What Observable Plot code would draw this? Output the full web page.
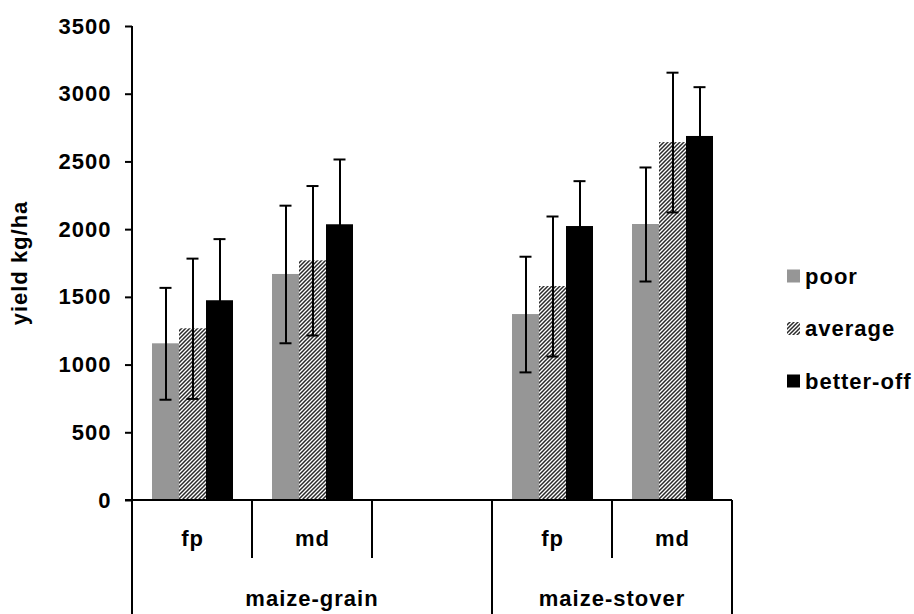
<!DOCTYPE html>
<html>
<head>
<meta charset="utf-8">
<script src="https://cdn.jsdelivr.net/npm/d3@7"></script>
<script src="https://cdn.jsdelivr.net/npm/@observablehq/plot@0.6"></script>
<style>
  html, body { margin: 0; padding: 0; background: #fff; }
  #chart { width: 914px; height: 614px; }
</style>
</head>
<body>
<div id="chart"></div>
<script>
// ---- data ----
const slots = ["grain-fp", "grain-md", "grain-blank", "stover-fp", "stover-md"];
const slotLabels = ["fp", "md", "", "fp", "md"];
const groups = ["maize-grain", "maize-stover"];
const groupSlots = [["grain-fp", "grain-md", "grain-blank"], ["stover-fp", "stover-md"]];
const classes = ["poor", "average", "better-off"];
const dataSlots = ["grain-fp", "grain-md", "stover-fp", "stover-md"];
const poor = [1157, 1669, 1373, 2038];
const poorErr = [413, 508, 427, 421];
const average = [1268, 1770, 1580, 2643];
const averageErr = [518, 552, 517, 516];
const betterOff = [1475, 2036, 2023, 2688];
const betterOffErr = [455, 482, 335, 364];
const yTicks = [0, 500, 1000, 1500, 2000, 2500, 3000, 3500];
const yLabel = "yield kg/ha";

const series = [[poor, poorErr], [average, averageErr], [betterOff, betterOffErr]];
const rows = [];
dataSlots.forEach((s, i) => {
  classes.forEach((c, k) => {
    rows.push({slot: s, cls: c, value: series[k][0][i], err: series[k][1][i]});
  });
});
const slotRows = slots.map((s, i) => ({slot: s, label: slotLabels[i]}));

const FONT = "'Liberation Sans', Arial, sans-serif";
const FS = 22;

const plot = Plot.plot({
  width: 914,
  height: 614,
  marginLeft: 130,
  marginRight: 181,
  marginTop: 26,
  marginBottom: 114,
  style: {fontFamily: FONT, fontWeight: "bold", fontSize: FS + "px", color: "#000", background: "#fff", letterSpacing: "1px"},
  fx: {domain: slots, padding: 0, axis: null},
  x: {domain: classes, paddingInner: 0, paddingOuter: 0.71, axis: null},
  y: {domain: [0, 3500], axis: null},
  color: {domain: classes, range: ["#969696", "url(#hatch)", "#000"]},
  marks: [
    Plot.barY(rows, {fx: "slot", x: "cls", y: "value", fill: "cls", inset: 0}),
    Plot.ruleX(rows, {fx: "slot", x: "cls", y1: d => d.value - d.err, y2: d => d.value + d.err, stroke: "#000", strokeWidth: 2}),
    Plot.tickY(rows, {fx: "slot", x: "cls", y: d => d.value + d.err, stroke: "#000", strokeWidth: 2, insetLeft: 7.5, insetRight: 7.5}),
    Plot.tickY(rows, {fx: "slot", x: "cls", y: d => d.value - d.err, stroke: "#000", strokeWidth: 2, insetLeft: 7.5, insetRight: 7.5}),
    Plot.text(slotRows, {fx: "slot", text: "label", frameAnchor: "bottom", dy: 45, fontSize: FS, fontWeight: "bold", fill: "#000"}),
    Plot.axisY({ticks: yTicks, tickSize: 7, tickPadding: 14, tickFormat: d => String(d), label: null, fontSize: FS, fontWeight: "bold", strokeWidth: 2, facetAnchor: "left"})
  ]
});

document.getElementById("chart").appendChild(plot);

// ---- decorations using the plot's scales ----
const svg = d3.select(plot);
const defs = svg.insert("defs", ":first-child");
const pat = defs.append("pattern").attr("id", "hatch").attr("patternUnits", "userSpaceOnUse")
  .attr("width", 4).attr("height", 4);
pat.append("rect").attr("width", 4).attr("height", 4).attr("fill", "#fff");
pat.append("path").attr("d", "M-1,1 L1,-1 M0,4 L4,0 M3,5 L5,3")
  .attr("stroke", "#2a2a2a").attr("stroke-width", 1.5);

const fx = plot.scale("fx");
const y = plot.scale("y");
const color = plot.scale("color");
const bw = fx.bandwidth;
const y0 = y.apply(0);
const yTop = y.apply(3500);
const xStart = fx.apply(slots[0]);
const xEnd = fx.apply(slots[slots.length - 1]) + bw;
const bottom = 614;
const midDepth = 58;

const g = svg.append("g").attr("stroke", "#000").attr("stroke-width", 2).attr("fill", "none");
// y axis line (continues down as table border)
g.append("line").attr("x1", xStart).attr("x2", xStart).attr("y1", yTop).attr("y2", bottom);
// x axis line
g.append("line").attr("x1", xStart - 7).attr("x2", xEnd).attr("y1", y0).attr("y2", y0);
// separators
const groupEdges = new Set();
groupSlots.forEach(gs => {
  groupEdges.add(fx.apply(gs[0]));
  groupEdges.add(fx.apply(gs[gs.length - 1]) + bw);
});
slots.forEach((s, i) => {
  const xr = fx.apply(s) + bw;
  const full = groupEdges.has(xr);
  g.append("line").attr("x1", xr).attr("x2", xr).attr("y1", y0).attr("y2", full ? bottom : y0 + midDepth);
});

const t = svg.append("g").attr("font-family", FONT).attr("font-weight", "bold").attr("font-size", FS).attr("fill", "#000").attr("text-anchor", "middle");
groups.forEach((name, i) => {
  const gs = groupSlots[i];
  const a = fx.apply(gs[0]), b = fx.apply(gs[gs.length - 1]) + bw;
  t.append("text").attr("x", (a + b) / 2).attr("y", y0 + 106).text(name);
});
// y label
t.append("text").attr("transform", `translate(27,${(y0 + yTop) / 2}) rotate(-90)`).text(yLabel);

// legend
const lg = svg.append("g").attr("font-family", FONT).attr("font-weight", "bold").attr("font-size", FS).attr("text-anchor", "start");
classes.forEach((c, i) => {
  const cy = 276 + i * 52.5;
  lg.append("rect").attr("x", 787).attr("y", cy - 6.5).attr("width", 13).attr("height", 13).attr("fill", color.apply(c));
  lg.append("text").attr("x", 805).attr("y", cy).attr("dy", "0.36em").text(c);
});
</script>
</body>
</html>
